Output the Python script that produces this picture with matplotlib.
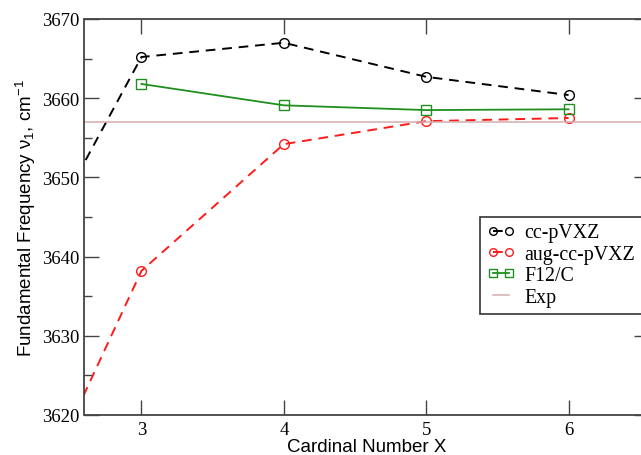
import numpy as np
import matplotlib.pyplot as plt

# cardinal number X and fundamental frequency (cm-1)
cardinal = [2, 3, 4, 5, 6]
cc_pvxz = [3632.0, 3665.2, 3667.0, 3662.7, 3660.4]
aug_cc_pvxz = [3599.5, 3638.2, 3654.2, 3657.1, 3657.5]

cardinal_f12 = [3, 4, 5, 6]
f12_c = [3661.8, 3659.1, 3658.5, 3658.6]

exp_value = 3657.0

x_ticks = [3, 4, 5, 6]
y_ticks = [3620, 3630, 3640, 3650, 3660, 3670]

plt.rcParams['mathtext.fontset'] = 'custom'
plt.rcParams['mathtext.rm'] = 'Liberation Sans'
plt.rcParams['mathtext.it'] = 'Liberation Sans'

fig = plt.figure(figsize=(6.41, 4.56), dpi=100)
# axes runs a bit past the right edge of the image, as in the original
ax = fig.add_axes([84.5 / 641, 1 - 416 / 456, (649 - 84.5) / 641, (416 - 20) / 456])

green = '#1f8f1f'
ax.plot(cardinal, cc_pvxz, color='black', linestyle=(0, (5, 3.5)), lw=1.4,
        marker='o', markersize=7, markerfacecolor='none', markeredgewidth=1,
        label='cc-pVXZ')
ax.plot(cardinal, aug_cc_pvxz, color='#ff1a1a', linestyle=(0, (5, 3.5)), lw=1.4,
        marker='o', markersize=7, markerfacecolor='none', markeredgewidth=1,
        label='aug-cc-pVXZ')
ax.plot(cardinal_f12, f12_c, color=green, linestyle='-', lw=1.3,
        marker='s', markersize=6.5, markerfacecolor='none', markeredgewidth=1,
        label='F12/C')
ax.axhline(exp_value, color='#d6aeae', lw=1.1, label='Exp')

ax.set_xlim(2.6, 6.565)
ax.set_ylim(3620, 3670)
ax.set_xticks(x_ticks)
ax.set_yticks(y_ticks)
ax.set_yticks(np.arange(3625, 3670, 10), minor=True)

ax.tick_params(which='both', direction='in', top=True, right=True,
               color='#444444', width=1)
ax.tick_params(which='major', length=11)
ax.tick_params(axis='y', which='major', pad=3.5)
ax.tick_params(axis='x', which='major', pad=4)
ax.tick_params(which='minor', length=6)
for lab in ax.get_xticklabels() + ax.get_yticklabels():
    lab.set_fontfamily('Liberation Serif')
    lab.set_fontsize(13.5)
for sp in ax.spines.values():
    sp.set_color('#444444')
    sp.set_linewidth(1.3)

ax.set_xlabel('Cardinal Number X', fontfamily='Liberation Sans', fontsize=13.5,
              labelpad=0)
ax.set_ylabel('Fundamental Frequency ν$_1$, cm$^{-1}$', fontfamily='Liberation Sans',
              fontsize=13.5, labelpad=3)

leg = ax.legend(loc='upper left', bbox_to_anchor=(480 / 641, 1 - 217.5 / 456),
                bbox_transform=fig.transFigure, numpoints=2, handlelength=1.4,
                handletextpad=0.5, borderpad=0.35, labelspacing=0.12,
                borderaxespad=0, fancybox=False, framealpha=1, edgecolor='#333333',
                prop={'family': 'Liberation Serif', 'size': 14.3})
leg.get_frame().set_linewidth(1.2)
for h in leg.legend_handles:
    h.set_markersize(5.5)

fig.savefig('out.png', dpi=100)
